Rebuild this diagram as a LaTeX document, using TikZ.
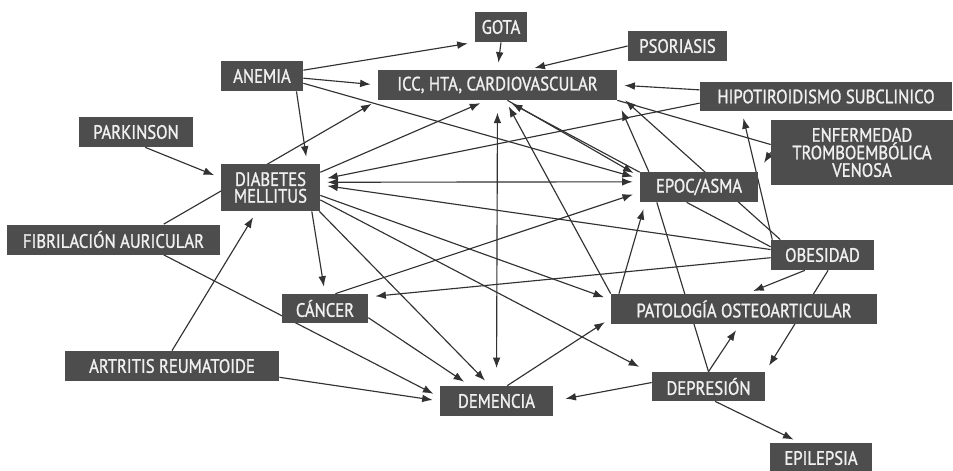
\documentclass[tikz,border=0pt]{standalone}
\usepackage{fontspec}
\setmainfont{PT Sans}[FakeStretch=0.86, FakeBold=1.2]
\usetikzlibrary{arrows.meta}
\usetikzlibrary{backgrounds}

\definecolor{boxgray}{RGB}{77,77,77}
\definecolor{linegray}{RGB}{50,50,50}

\tikzset{
  item/.style={fill=boxgray, text=white!94!black, font=\fontsize{11}{9.5}\selectfont,
    minimum height=0.6cm, inner sep=1pt, align=center},
  link/.style={->, linegray, line width=0.65pt, shorten >=4pt},
  plainlink/.style={-, linegray, line width=0.65pt},
}

\begin{document}
\begin{tikzpicture}[x=0.02cm, y=-0.02cm, >={Latex[length=6pt,width=4.4pt]}]
        \useasboundingbox (0,0) rectangle (953,470);

        % boxes
        \node[item, minimum width=1.04cm] (gota) at (501,27) {GOTA};
        \node[item, minimum width=1.98cm] (psor) at (677.5,46) {PSORIASIS};
        \node[item, minimum width=1.64cm] (anem) at (262,76) {ANEMIA};
        \node[item, minimum width=4.78cm] (icc) at (497.5,85) {ICC, HTA, CARDIOVASCULAR};
        \node[item, minimum width=5.04cm, minimum height=0.58cm] (hipo) at (826,96.5) {HIPOTIROIDISMO SUBCLINICO};
        \node[item, minimum width=2.28cm] (park) at (136,132) {PARKINSON};
        \node[item, minimum width=3.64cm, minimum height=1.3cm, font=\fontsize{11}{10}\selectfont] (etv) at (862,152.5) {ENFERMEDAD\\TROMBOEMBÓLICA\\VENOSA};
        \node[item, minimum width=1.98cm, minimum height=0.94cm] (dm) at (270.5,187.5) {DIABETES\\MELLITUS};
        \node[item, minimum width=2.36cm] (epoc) at (699,187) {EPOC/ASMA};
        \node[item, minimum width=4.26cm] (fa) at (113.5,239.5) {FIBRILACIÓN AURICULAR};
        \node[item, minimum width=2.06cm] (obes) at (822.5,255) {OBESIDAD};
        \node[item, minimum width=1.72cm, minimum height=0.58cm] (canc) at (325,308.5) {CÁNCER};
        \node[item, minimum width=5.32cm] (pato) at (744,309) {PATOLOGÍA OSTEOARTICULAR};
        \node[item, minimum width=4.28cm] (ar) at (172,366) {ARTRITIS REUMATOIDE};
        \node[item, minimum width=2.26cm] (dem) at (496.5,401) {DEMENCIA};
        \node[item, minimum width=2.26cm, minimum height=0.58cm] (depr) at (708.5,386.5) {DEPRESIÓN};
        \node[item, minimum width=2.04cm] (epil) at (821,458) {EPILEPSIA};

        \begin{scope}[on background layer]
        \fill[white] (0,0) rectangle (953,470);

        % anemia, gota, psoriasis, hipotiroidismo
        \draw[link] (anem.8) -- (gota.south west);
        \draw[link] (anem.-3) -- (icc.west);
        \draw[link] (anem.-10) -- (epoc.172);
        \draw[link] (anem.-24) -- (dm.33);
        \draw[link] (gota.south) -- (icc.north);
        \draw[link] (psor.west) -- (icc.27);
        \draw[link] (hipo.177) -- (icc.east);
        \draw[link] (hipo.183) -- (dm.9);
        \draw[plainlink] (etv.175) -- (icc.south east);
        \draw[link, shorten >=6pt] (etv.west) -- (epoc.north east);

        % left side
        \draw[link] (park.-59) -- (dm.169);
        \draw[link] (fa.17) -- (icc.south west);
        \draw[link] (fa.-17) -- (dem.176);
        \draw[link] (ar.north) -- (dm.-120);
        \draw[link] (ar.-6) -- (dem.west);

        % diabetes
        \draw[link] (dm.17) -- (icc.-125);
        \draw[link, <->, shorten <=4pt] (dm.6) -- (epoc.175);
        \draw[link] (obes.174) -- (dm.3);
        \draw[link] (dm.-9) -- (pato.176);
        \draw[link, shorten >=8pt] (dm.-14) -- (depr.167);
        \draw[link] (dm.-26) -- (dem.113);
        \draw[link] (dm.-30) -- (canc.north);

        % cancer, demencia
        \draw[link] (canc.55) -- (epoc.185);
        \draw[link] (obes.183) -- (canc.15);
        \draw[link] (canc.-12) -- (dem.150);
        \draw[link, <->, shorten <=10pt, shorten >=7pt] (dem.north) -- (icc.south);
        \draw[link] (dem.55) -- (pato.184);

        % epoc, patologia, obesidad
        \draw[link] (pato.173) -- (epoc.196);
        \draw[link] (pato.north west) -- (icc.-63);
        \draw[link, shorten >=6pt] (epoc.163) -- (icc.south east);
        \draw[link, shorten >=6pt] (obes.160) -- (icc.-4);
        \draw[link] (icc.-57) -- (epoc.170);
        \draw[link] (epoc.166) -- (icc.-62);
        \draw[link] (obes.163) -- (hipo.190);
        \draw[plainlink] (epoc.-129) -- (obes.171);
        \draw[plainlink] (epoc.200) -- (depr.north);
        \draw[link] (obes.-139) -- (pato.80);
        \draw[link] (obes.-70) -- (depr.north east);

        % depresion
        \draw[link] (depr.north) -- (pato.-105);
        \draw[link, shorten >=7pt] (depr.176) -- (dem.east);
        \draw[link] (depr.-66) -- (epil.144);
        \end{scope}
    \end{tikzpicture}
\end{document}
